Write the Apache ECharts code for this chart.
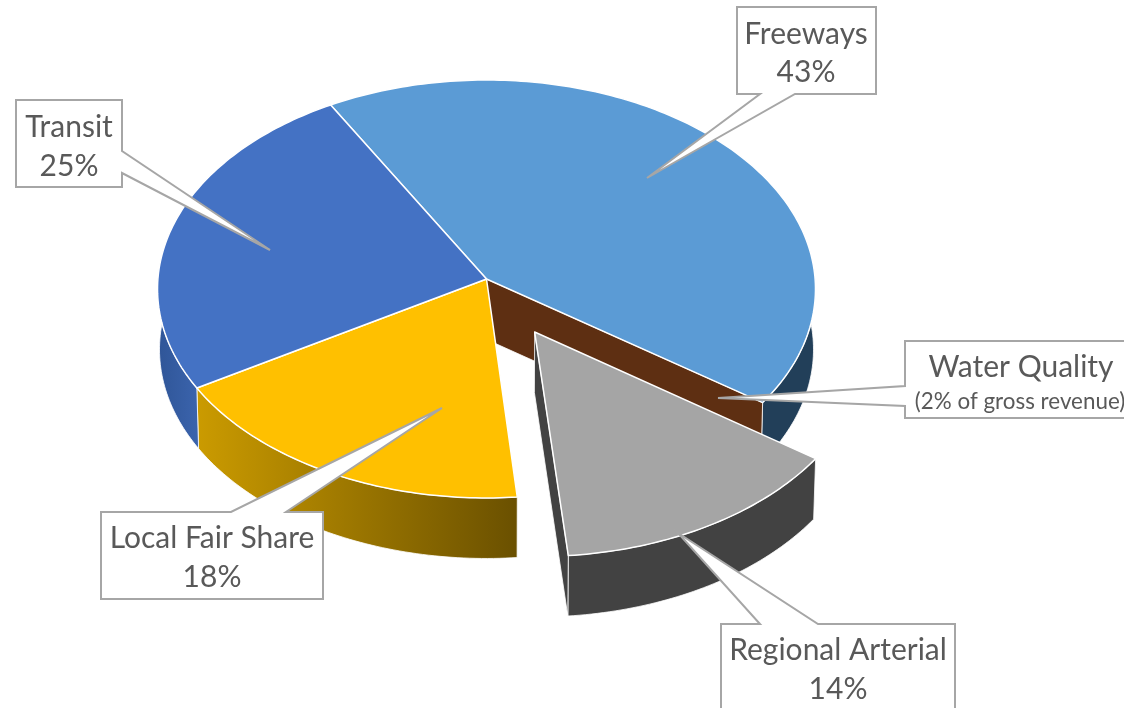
<!DOCTYPE html>
<html>
<head>
<meta charset="utf-8">
<title>Revenue shares</title>
<script src="https://cdn.jsdelivr.net/npm/echarts@6/dist/echarts.min.js"></script>
<style>
html, body { margin: 0; padding: 0; background: #fff; }
#container { width: 1124px; height: 708px; }
</style>
</head>
<body>
<div id="container"></div>
<script>
// slices run clockwise, Freeways first
var sliceNames = ['Freeways', 'Regional Arterial', 'Local Fair Share', 'Transit'];
var sliceShares = [43, 13.8, 17.9, 25.3];
var waterName = 'Water Quality';
var waterShare = 2;

var startAngle = -29.6;
var tops = ['#5B9BD5', '#A5A5A5', '#FFC000', '#4472C4'];
var sides = ['#223F59', '#424242', '#FFC000', '#3760A3'];
var cutColor = '#5E2F12';
var explodedIndex = 1;

// tilted disc, with a little perspective
var cx = 486.5, cy = 279, rx = 328.6, ry = 208.5, persp = 0.0478;
var thick = 60.5, shrink = 0.994, explode = 0.29;

function project(u, v, low) {
    var d = 1 + persp * v;
    var x = cx + rx * u / d;
    var y = cy - ry * v / d;
    if (low) {
        x = cx + (x - cx) * shrink;
        y = y + thick;
    }
    return [x, y];
}

function rimPoint(deg, off, low) {
    var r = deg * Math.PI / 180;
    return project(Math.sin(r) + off[0], Math.cos(r) + off[1], low);
}

function arc(a, b, off, low) {
    var pts = [];
    var n = Math.max(2, Math.ceil(Math.abs(b - a)));
    for (var i = 0; i <= n; i++) {
        pts.push(rimPoint(a + (b - a) * i / n, off, low));
    }
    return pts;
}

function poly(points, fill, z2, stroke, width) {
    return {
        type: 'polygon',
        z2: z2,
        shape: { points: points },
        style: { fill: fill, stroke: stroke || '#fff', lineWidth: width === undefined ? 1.5 : width, lineJoin: 'round' }
    };
}

var angles = [];
var sum = startAngle;
sliceShares.forEach(function (s) {
    angles.push([sum, sum + s * 3.6]);
    sum += s * 3.6;
});

function renderSlice(params, api) {
    var i = params.dataIndex;
    var share = api.value(0);
    var a = angles[i][0];
    var b = a + share * 3.6;
    var exploded = i === explodedIndex;
    var off = [0, 0];
    if (exploded) {
        var mid = (a + b) / 2 * Math.PI / 180;
        off = [Math.sin(mid) * explode, Math.cos(mid) * explode];
    }
    var base = exploded ? 5 : 1;
    var children = [];

    // outer wall, only the part that faces the viewer
    var wa = Math.max(a, 70), wb = Math.min(b, 290);
    if (wb > wa) {
        var wallFill = sides[i];
        if (sliceNames[i] === 'Local Fair Share') {
            wallFill = {
                type: 'linear', x: 0, y: 0, x2: 1, y2: 0,
                colorStops: [{ offset: 0, color: '#CB9B00' }, { offset: 1, color: '#6A5000' }]
            };
        }
        if (sliceNames[i] === 'Transit') {
            wallFill = {
                type: 'linear', x: 0, y: 0, x2: 1, y2: 0,
                colorStops: [{ offset: 0, color: '#2F5597' }, { offset: 1, color: '#3B64AD' }]
            };
        }
        var wall = arc(wa, wb, off, false).concat(arc(wb, wa, off, true));
        children.push(poly(wall, wallFill, base, '#fff', 0.8));
    }

    // cut faces
    if (i === 0) {
        var end = rimPoint(b, off, false), endLow = rimPoint(b, off, true);
        children.push(poly([project(0, 0, false), end, endLow, project(0, 0, true)], cutColor, base + 1, '#fff', 0.8));
    }
    if (exploded) {
        children.push(poly([
            project(off[0], off[1], false), rimPoint(b, off, false),
            rimPoint(b, off, true), project(off[0], off[1], true)
        ], sides[i], base + 1, '#fff', 0.8));
    }

    // top face
    var top = [project(off[0], off[1], false)].concat(arc(a, b, off, false));
    children.push(poly(top, tops[i], base + 2));

    return { type: 'group', children: children };
}

// label boxes with their pointers
var boxColor = '#A6A6A6', textColor = '#595959', fontName = 'Lato, "Open Sans", sans-serif';
var callouts = [
    { pts: [[737, 7], [876, 7], [876, 94], [795, 94], [647, 178], [760, 94], [737, 94]],
      lines: [[sliceNames[0], 806, 34, 30], [sliceShares[0].toFixed(0) + '%', 806, 72, 30]] },
    { pts: [[16, 100], [122, 100], [122, 151], [270, 250], [122, 173], [122, 187], [16, 187]],
      lines: [[sliceNames[3], 69, 127, 30], [sliceShares[3].toFixed(0) + '%', 69, 166, 30]] },
    { pts: [[101, 512], [231, 512], [442, 408], [286, 512], [323, 512], [323, 599], [101, 599]],
      lines: [[sliceNames[2], 212, 538, 30], [sliceShares[2].toFixed(0) + '%', 212, 577, 30]] },
    { pts: [[721, 624], [760, 624], [678, 533], [818, 624], [955, 624], [955, 714], [721, 714]],
      lines: [[sliceNames[1], 838, 650, 30], [sliceShares[1].toFixed(0) + '%', 838, 689, 30]] },
    { pts: [[905, 341], [1130, 341], [1130, 418], [905, 418], [905, 406], [718, 398], [905, 386]],
      lines: [[waterName, 1021, 367, 30], ['(' + waterShare + '% of gross revenue)', 1020, 402, 22.4]] }
];

var elements = [];
callouts.forEach(function (c) {
    elements.push({
        type: 'polygon', z: 100,
        shape: { points: c.pts },
        style: { fill: '#fff', stroke: boxColor, lineWidth: 2, lineJoin: 'miter' }
    });
    c.lines.forEach(function (l) {
        elements.push({
            type: 'text', z: 101, x: l[1], y: l[2],
            style: { text: l[0], fill: textColor, font: l[3] + 'px ' + fontName, align: 'center', verticalAlign: 'middle' }
        });
    });
});

var myChart = echarts.init(document.getElementById('container'), null, { renderer: 'canvas' });
var option = {
    animation: false,
    backgroundColor: '#fff',
    graphic: { elements: elements },
    series: [{
        type: 'custom',
        coordinateSystem: 'none',
        silent: true,
        renderItem: renderSlice,
        data: sliceShares.map(function (s, i) {
            return { name: sliceNames[i], value: [s] };
        })
    }]
};
myChart.setOption(option);
</script>
</body>
</html>
